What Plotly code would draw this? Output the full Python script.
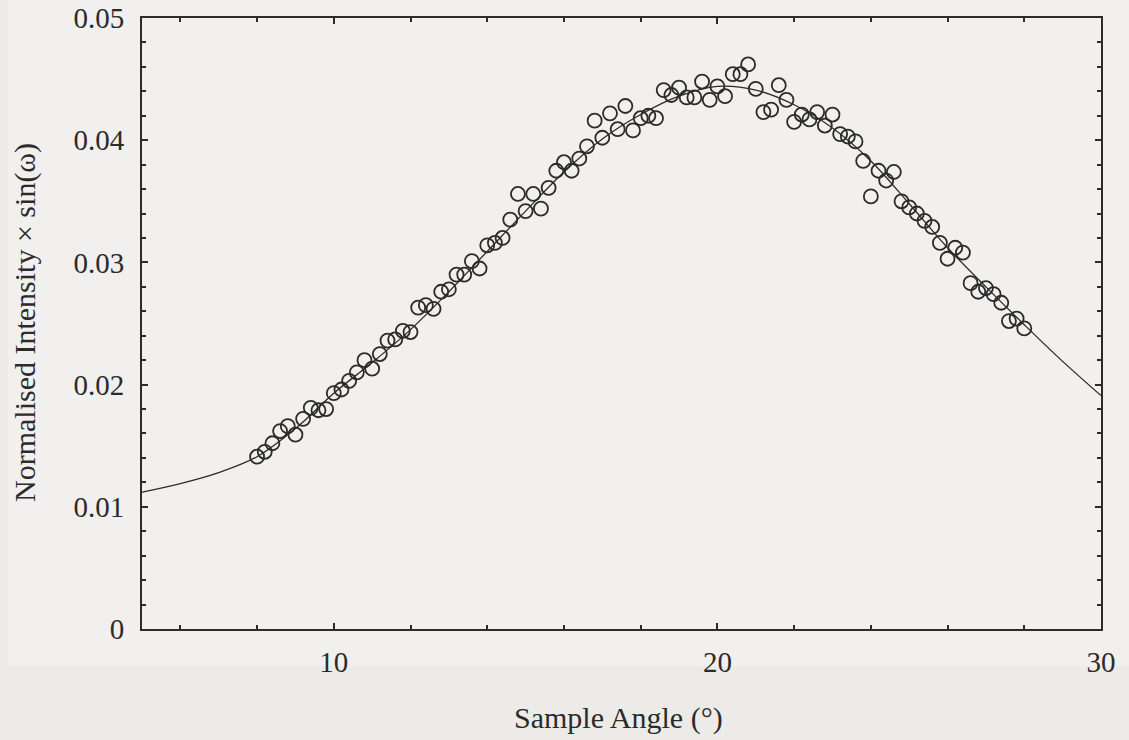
import plotly.graph_objects as go

# Measured sample angles (degrees)
angle = [
    8.0, 8.2, 8.4, 8.6, 8.8, 9.0, 9.2, 9.4, 9.6, 9.8,
    10.0, 10.2, 10.4, 10.6, 10.8, 11.0, 11.2, 11.4, 11.6, 11.8,
    12.0, 12.2, 12.4, 12.6, 12.8, 13.0, 13.2, 13.4, 13.6, 13.8,
    14.0, 14.2, 14.4, 14.6, 14.8, 15.0, 15.2, 15.4, 15.6, 15.8,
    16.0, 16.2, 16.4, 16.6, 16.8, 17.0, 17.2, 17.4, 17.6, 17.8,
    18.0, 18.2, 18.4, 18.6, 18.8, 19.0, 19.2, 19.4, 19.6, 19.8,
    20.0, 20.2, 20.4, 20.6, 20.8, 21.0, 21.2, 21.4, 21.6, 21.8,
    22.0, 22.2, 22.4, 22.6, 22.8, 23.0, 23.2, 23.4, 23.6, 23.8,
    24.0, 24.2, 24.4, 24.6, 24.8, 25.0, 25.2, 25.4, 25.6, 25.8,
    26.0, 26.2, 26.4, 26.6, 26.8, 27.0, 27.2, 27.4, 27.6, 27.8,
    28.0,
]

# Normalised intensity x sin(omega) at each angle
intensity = [
    0.0141, 0.0145, 0.0152, 0.0162, 0.0166, 0.0159, 0.0172, 0.0181, 0.0179, 0.0180,
    0.0193, 0.0196, 0.0203, 0.0210, 0.0220, 0.0213, 0.0225, 0.0236, 0.0237, 0.0244,
    0.0243, 0.0263, 0.0265, 0.0262, 0.0276, 0.0278, 0.0290, 0.0290, 0.0301, 0.0295,
    0.0314, 0.0316, 0.0320, 0.0335, 0.0356, 0.0342, 0.0356, 0.0344, 0.0361, 0.0375,
    0.0382, 0.0375, 0.0385, 0.0395, 0.0416, 0.0402, 0.0422, 0.0409, 0.0428, 0.0408,
    0.0418, 0.0420, 0.0418, 0.0441, 0.0437, 0.0443, 0.0435, 0.0435, 0.0448, 0.0433,
    0.0444, 0.0436, 0.0454, 0.0454, 0.0462, 0.0442, 0.0423, 0.0425, 0.0445, 0.0433,
    0.0415, 0.0421, 0.0417, 0.0423, 0.0412, 0.0421, 0.0405, 0.0403, 0.0399, 0.0383,
    0.0354, 0.0375, 0.0367, 0.0374, 0.0350, 0.0345, 0.0340, 0.0334, 0.0329, 0.0316,
    0.0303, 0.0312, 0.0308, 0.0283, 0.0276, 0.0279, 0.0274, 0.0267, 0.0252, 0.0254,
    0.0246,
]

# Fitted model curve, sampled every degree
fit_angle = [
    5, 6, 7, 8, 9, 10, 11, 12, 13, 14, 15, 16, 17,
    18, 19, 20, 21, 22, 23, 24, 25, 26, 27, 28, 29, 30,
]
fit_value = [
    0.0112, 0.0119, 0.0128, 0.0141, 0.0164, 0.0193, 0.0218, 0.0245, 0.0276,
    0.0309, 0.0342, 0.0374, 0.0401, 0.0421, 0.0436, 0.0444, 0.0441, 0.0429,
    0.0410, 0.0383, 0.0348, 0.0312, 0.0280, 0.0249, 0.0219, 0.0191,
]

x_ticks = [10, 20, 30]
y_ticks = [0, 0.01, 0.02, 0.03, 0.04, 0.05]
y_tick_text = ["0", "0.01", "0.02", "0.03", "0.04", "0.05"]

INK = "#2b2b2b"
FONT = "Liberation Serif"

fig = go.Figure()

fig.add_trace(go.Scatter(
    x=fit_angle, y=fit_value, mode="lines",
    line=dict(color=INK, width=1.3, shape="spline", smoothing=1.0),
    hoverinfo="skip", showlegend=False,
))

fig.add_trace(go.Scatter(
    x=angle, y=intensity, mode="markers",
    marker=dict(symbol="circle-open", size=14, color=INK,
                line=dict(width=1.8, color=INK)),
    showlegend=False,
))

W, H = 1129, 740
L, R, T, B = 142, 28, 18, 111
pw, ph = W - L - R, H - T - B


def px_to_paper_x(px):
    return (px - L) / pw


def px_to_paper_y(py):
    return (H - B - py) / ph


# lighter sheet behind the chart area
fig.add_shape(
    type="rect", xref="paper", yref="paper", layer="below",
    x0=px_to_paper_x(8), x1=px_to_paper_x(1135),
    y0=px_to_paper_y(666), y1=px_to_paper_y(-5),
    line=dict(width=0), fillcolor="#f1f0ee",
)

fig.add_annotation(
    text="Sample Angle (°)", xref="paper", yref="paper",
    x=px_to_paper_x(618), y=px_to_paper_y(718),
    showarrow=False, font=dict(family=FONT, size=30, color=INK),
    xanchor="center", yanchor="middle",
)
fig.add_annotation(
    text="Normalised Intensity × sin(ω)", xref="paper", yref="paper",
    x=px_to_paper_x(25), y=px_to_paper_y(323), textangle=-90,
    showarrow=False, font=dict(family=FONT, size=30, color=INK),
    xanchor="center", yanchor="middle",
)

axis_common = dict(
    showgrid=False, zeroline=False, showline=True, linecolor=INK, linewidth=2,
    mirror="allticks", ticks="inside", ticklen=6, tickwidth=1.5, tickcolor=INK,
    tickfont=dict(family=FONT, size=29, color=INK),
    ticklabeloverflow="allow",
)

fig.update_xaxes(
    range=[5, 30], tickvals=x_ticks, ticktext=[str(v) for v in x_ticks],
    minor=dict(dtick=2, tick0=0, ticks="inside", ticklen=4, tickwidth=1.5,
               tickcolor=INK),
    ticklabelstandoff=6,
    **axis_common,
)
fig.update_yaxes(
    range=[0, 0.05], tickvals=y_ticks, ticktext=y_tick_text,
    minor=dict(dtick=0.002, tick0=0, ticks="inside", ticklen=4, tickwidth=1.5,
               tickcolor=INK),
    ticklabelstandoff=10,
    **axis_common,
)

fig.update_layout(
    width=W, height=H,
    margin=dict(l=L, r=R, t=T, b=B, autoexpand=False),
    paper_bgcolor="#ecebe8", plot_bgcolor="#f1f0ee",
    font=dict(family=FONT, color=INK),
)

fig.write_html("out.html")
